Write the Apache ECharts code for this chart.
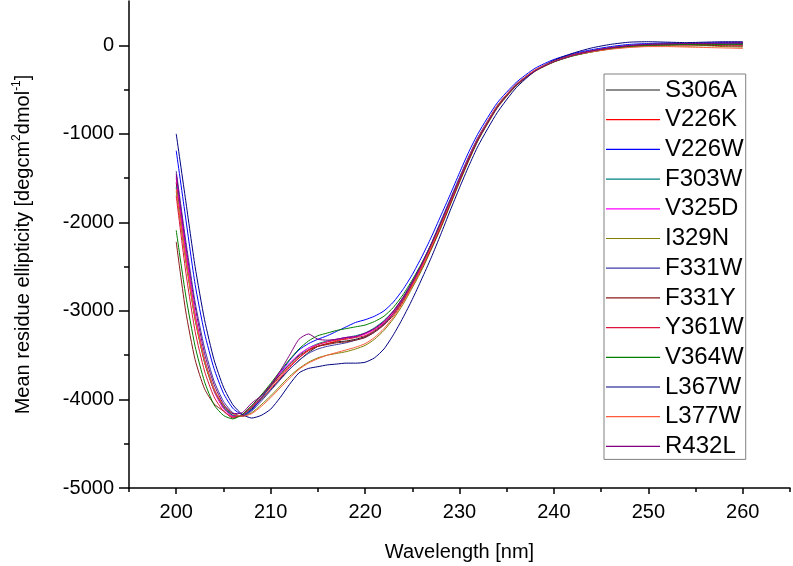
<!DOCTYPE html>
<html>
<head>
<meta charset="utf-8">
<script src="https://cdn.jsdelivr.net/npm/echarts@6/dist/echarts.min.js"></script>
<style>html,body{margin:0;padding:0;background:#fff;}#c{width:793px;height:566px;}</style>
</head>
<body>
<div id="c"></div>
<script>
const wavelength = [200,201,202,203,204,205,206,207,208,209,210,211,212,213,214,215,216,217,218,219,220,221,222,223,224,225,226,227,228,229,230,231,232,234,236,238,240,242,244,246,248,250,252,254,256,258,260];

const S306A = [-1550,-2350,-3050,-3550,-3880,-4080,-4180,-4190,-4110,-4000,-3890,-3770,-3660,-3560,-3470,-3400,-3370,-3350,-3340,-3320,-3290,-3230,-3150,-3030,-2880,-2700,-2500,-2270,-2030,-1780,-1530,-1290,-1060,-700,-450,-285,-180,-110,-65,-30,-5,5,10,15,10,15,20];
const V226K = [-1500,-2330,-3060,-3570,-3900,-4100,-4190,-4180,-4090,-3980,-3860,-3740,-3630,-3530,-3450,-3400,-3370,-3340,-3310,-3290,-3260,-3200,-3120,-3010,-2860,-2680,-2480,-2260,-2020,-1770,-1510,-1260,-1040,-690,-450,-285,-185,-115,-70,-35,-10,5,10,10,15,10,10];
const V226W = [-1190,-1950,-2700,-3250,-3650,-3930,-4100,-4170,-4120,-3990,-3840,-3700,-3560,-3440,-3370,-3320,-3280,-3230,-3180,-3130,-3100,-3060,-3000,-2900,-2760,-2590,-2390,-2170,-1930,-1690,-1440,-1200,-990,-650,-420,-260,-160,-95,-50,-15,10,20,25,20,25,30,30];
const F303W = [-1600,-2400,-3090,-3580,-3900,-4090,-4180,-4185,-4100,-3980,-3850,-3720,-3600,-3500,-3420,-3370,-3340,-3320,-3300,-3280,-3250,-3190,-3110,-3000,-2850,-2670,-2470,-2250,-2010,-1760,-1510,-1270,-1050,-690,-445,-285,-185,-115,-70,-35,-10,0,5,10,10,5,5];
const V325D = [-1480,-2320,-3040,-3560,-3900,-4100,-4190,-4180,-4080,-3960,-3830,-3700,-3590,-3490,-3420,-3380,-3350,-3320,-3300,-3290,-3260,-3210,-3130,-3020,-2870,-2690,-2490,-2270,-2030,-1770,-1520,-1280,-1060,-700,-455,-290,-185,-115,-70,-35,-10,0,10,5,10,10,5];
const I329N = [-1650,-2430,-3100,-3580,-3890,-4070,-4160,-4190,-4150,-4060,-3960,-3850,-3740,-3650,-3580,-3530,-3500,-3480,-3460,-3430,-3390,-3320,-3220,-3090,-2930,-2740,-2540,-2310,-2070,-1810,-1550,-1300,-1070,-710,-460,-295,-190,-120,-75,-40,-20,-10,-5,-10,-5,-15,-20];
const F331W = [-1420,-2200,-2900,-3420,-3790,-4020,-4150,-4190,-4130,-4020,-3900,-3780,-3660,-3560,-3480,-3430,-3400,-3380,-3360,-3330,-3300,-3240,-3150,-3030,-2870,-2680,-2470,-2240,-1990,-1740,-1490,-1250,-1030,-680,-440,-280,-175,-105,-60,-25,0,15,20,15,25,20,25];
const F331Y = [-2220,-3000,-3550,-3880,-4050,-4130,-4210,-4170,-4070,-3960,-3840,-3720,-3610,-3510,-3440,-3400,-3380,-3360,-3350,-3330,-3300,-3240,-3160,-3050,-2900,-2720,-2520,-2300,-2060,-1800,-1540,-1290,-1060,-700,-450,-285,-180,-110,-65,-30,-10,0,5,5,0,-5,-10];
const Y361W = [-1700,-2550,-3230,-3680,-3970,-4130,-4200,-4175,-4090,-3990,-3880,-3760,-3640,-3530,-3440,-3380,-3350,-3330,-3320,-3300,-3280,-3220,-3140,-3030,-2880,-2700,-2500,-2280,-2040,-1780,-1520,-1280,-1050,-690,-445,-280,-180,-110,-65,-30,-5,5,10,5,10,5,0];
const V364W = [-2090,-2820,-3400,-3800,-4060,-4180,-4220,-4170,-4070,-3950,-3820,-3680,-3550,-3430,-3340,-3280,-3250,-3220,-3200,-3180,-3160,-3120,-3060,-2960,-2820,-2650,-2460,-2250,-2010,-1760,-1510,-1270,-1050,-690,-450,-285,-185,-120,-75,-40,-15,0,5,10,5,10,10];
const L367W = [-1000,-1750,-2500,-3100,-3550,-3860,-4060,-4170,-4210,-4180,-4110,-3980,-3830,-3700,-3650,-3630,-3610,-3600,-3590,-3590,-3580,-3530,-3430,-3270,-3080,-2870,-2640,-2400,-2140,-1870,-1610,-1360,-1130,-760,-480,-290,-170,-90,-30,10,35,40,35,30,35,40,40];
const L377W = [-1620,-2400,-3080,-3560,-3880,-4060,-4160,-4190,-4160,-4080,-3980,-3870,-3760,-3660,-3590,-3540,-3500,-3470,-3440,-3410,-3370,-3300,-3200,-3070,-2910,-2720,-2510,-2280,-2030,-1770,-1510,-1260,-1040,-680,-440,-280,-180,-115,-75,-45,-25,-15,-15,-20,-25,-30,-35];
const R432L = [-1450,-2250,-2950,-3480,-3830,-4050,-4160,-4150,-4040,-3960,-3840,-3680,-3500,-3320,-3260,-3320,-3330,-3320,-3300,-3290,-3250,-3200,-3120,-3000,-2850,-2670,-2470,-2250,-2010,-1760,-1510,-1270,-1050,-700,-450,-290,-185,-115,-65,-30,-5,10,15,20,20,25,30];

const seriesNames = ['S306A','V226K','V226W','F303W','V325D','I329N','F331W','F331Y','Y361W','V364W','L367W','L377W','R432L'];
const seriesValues = [S306A,V226K,V226W,F303W,V325D,I329N,F331W,F331Y,Y361W,V364W,L367W,L377W,R432L];
const seriesColors = ['#1a1a1a','#ff0000','#0000ff','#008080','#ff00ff','#808000','#3c3ca8','#8b1a1a','#dc143c','#008000','#000080','#ff5a3c','#800080'];

const xMajorTicks = [200,210,220,230,240,250,260];
const xMinorTicks = [195,205,215,225,235,245,255,265];
const yMajorTicks = [-5000,-4000,-3000,-2000,-1000,0];
const yMinorTicks = [-4500,-3500,-2500,-1500,-500];

const FONT = '"Liberation Sans", Arial, sans-serif';

const chart = echarts.init(document.getElementById('c'), null, {renderer:'canvas'});
const series = seriesNames.map((n,i)=>({
  name:n, type:'line', xAxisIndex:0, yAxisIndex:0,
  data: wavelength.map((w,k)=>[w, seriesValues[i][k]]),
  symbol:'none', showSymbol:false, smooth:0.2,
  lineStyle:{width:1, color:seriesColors[i]}, itemStyle:{color:seriesColors[i]},
  animation:false
}));

chart.setOption({
  animation:false,
  backgroundColor:'#fff',
  grid:{left:129, right:3, top:1, bottom:78, containLabel:false, outerBoundsMode:'none'},
  legend:{
    orient:'vertical', left:604, top:74,
    padding:[4,2,1,2], borderColor:'#808080', borderWidth:1,
    icon:'rect', itemWidth:54, itemHeight:1.2, itemGap:5.7,
    textStyle:{fontSize:24, color:'#000', fontFamily:FONT, padding:[0,0,0,0]},
    data: seriesNames
  },
  xAxis:[{
    type:'value', min:195, max:265, position:'bottom',
    axisLine:{show:true, onZero:false, lineStyle:{color:'#000', width:1.5}},
    axisTick:{show:true, customValues:xMajorTicks, length:6, lineStyle:{color:'#000', width:1.5}},
    axisLabel:{customValues:xMajorTicks, fontSize:20, color:'#000', fontFamily:FONT, margin:14},
    splitLine:{show:false},
    name:'Wavelength [nm]', nameLocation:'middle', nameGap:54,
    nameTextStyle:{fontSize:20, color:'#000', fontFamily:FONT}
  },{
    type:'value', min:195, max:265, position:'bottom',
    axisLine:{show:false, onZero:false},
    axisTick:{show:true, customValues:xMinorTicks, length:4, lineStyle:{color:'#000', width:1.5}},
    axisLabel:{show:false},
    splitLine:{show:false}
  }],
  yAxis:[{
    type:'value', min:-5000, max:500, position:'left',
    axisLine:{show:true, onZero:false, lineStyle:{color:'#000', width:1.5}},
    axisTick:{show:true, customValues:yMajorTicks, length:10, lineStyle:{color:'#000', width:1.5}},
    axisLabel:{customValues:yMajorTicks, fontSize:20, color:'#000', fontFamily:FONT, margin:15, formatter:(v)=>String(v)},
    splitLine:{show:false},
    name:'{a|Mean residue ellipticity [degcm}{s|2}{a|dmol}{s|-1}{a|]}',
    nameLocation:'middle', nameGap:96, nameRotate:90,
    nameTextStyle:{
      fontFamily:FONT, color:'#000',
      rich:{
        a:{fontSize:20, fontFamily:FONT, color:'#000', verticalAlign:'bottom', lineHeight:26},
        s:{fontSize:12, fontFamily:FONT, color:'#000', verticalAlign:'bottom', lineHeight:26, padding:[0,0,10,0]}
      }
    }
  },{
    type:'value', min:-5000, max:500, position:'left',
    axisLine:{show:false, onZero:false},
    axisTick:{show:true, customValues:yMinorTicks, length:5, lineStyle:{color:'#000', width:1.5}},
    axisLabel:{show:false},
    splitLine:{show:false}
  }],
  series: series
});
</script>
</body>
</html>
